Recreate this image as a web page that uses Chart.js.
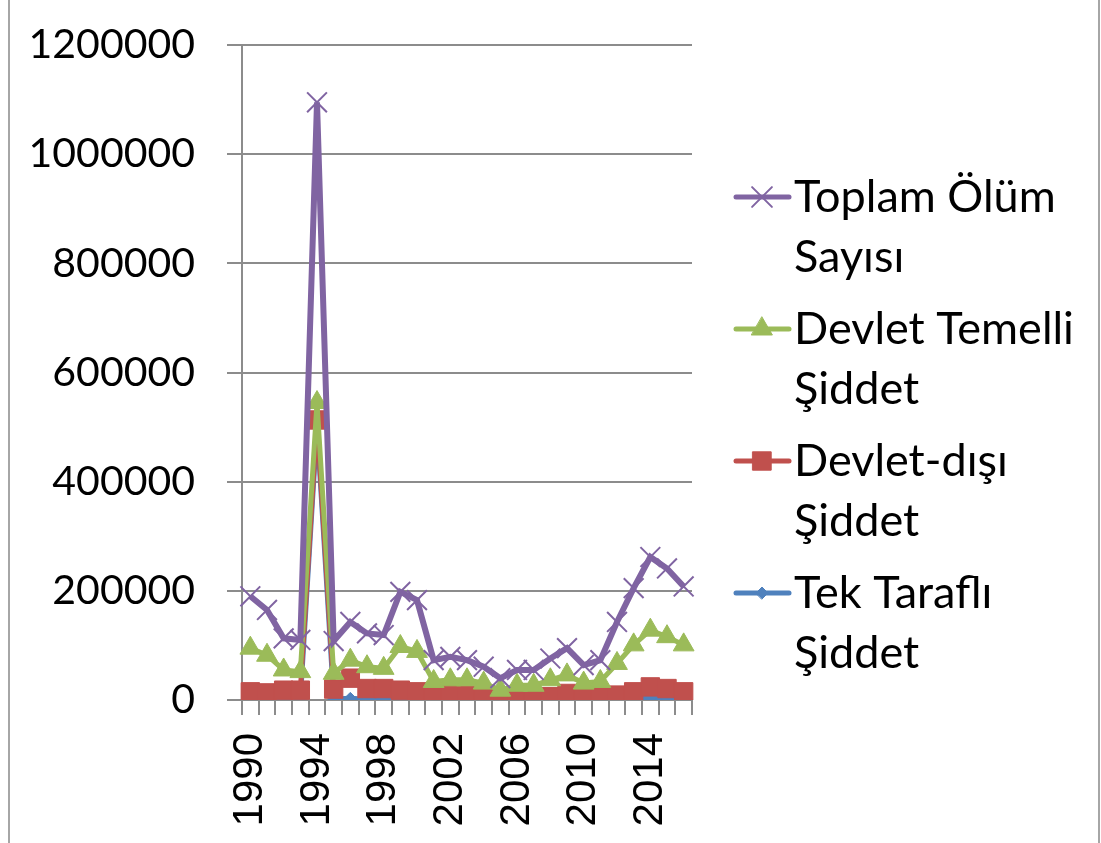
<!DOCTYPE html>
<html>
<head>
<meta charset="utf-8">
<script src="https://cdn.jsdelivr.net/npm/chart.js@4"></script>
<style>
  body { margin: 0; background: #fff; overflow: hidden; }
  #wrap { position: relative; width: 1101px; height: 843px; }
  #frame { position: absolute; left: 8px; top: 0; width: 1088px; height: 843px;
           border-left: 2px solid #a6a6a6; border-right: 2px solid #a6a6a6; pointer-events: none; }
</style>
</head>
<body>
<div id="wrap">
  <canvas id="chart" width="1101" height="843"></canvas>
  <div id="frame"></div>
</div>
<script>
// yıllar
const years = [];
for (let y = 1990; y <= 2016; y++) years.push(String(y));

// seriler
const toplam = [190000, 165000, 113000, 110000, 1095000, 108000, 143000, 122000, 119000, 198000,
                183000, 73000, 79000, 73000, 61000, 40000, 55000, 55000, 76000, 95000,
                64000, 73000, 143000, 205000, 262000, 241000, 208000];
const devletTemelli = [95000, 82000, 55000, 52000, 545000, 49000, 73000, 61000, 58000, 98000,
                       89000, 34000, 37000, 37000, 31000, 18000, 27000, 27000, 37000, 46000,
                       31000, 34000, 67000, 101000, 128000, 116000, 101000];
const devletDisi = [15000, 13000, 18000, 18000, 513000, 20000, 40000, 21000, 21000, 18000,
                    15000, 12000, 12000, 9000, 6000, 1000, 2000, 2000, 6000, 12000,
                    6000, 9000, 9000, 15000, 24000, 21000, 15000];
const tekTarafli = [500, 300, 1500, 500, 500000, 2000, 3000, 1500, 1500, 1500,
                    800, 500, 1500, 1000, 500, 300, 300, 800, 1000, 500,
                    500, 500, 500, 1500, 4000, 2500, 500];

const yTicks = [0, 200000, 400000, 600000, 800000, 1000000, 1200000];
const legendNames = [['Toplam Ölüm', 'Sayısı'], ['Devlet Temelli', 'Şiddet'], ['Devlet-dışı', 'Şiddet'], ['Tek Taraflı', 'Şiddet']];

const gridColor = '#8c8c8c';

// lejant: satırlara bölünmüş metin
const sideLegend = {
    id: 'sideLegend',
    afterDraw(chart) {
        const ctx = chart.ctx;
        const tops = [197, 329, 461, 593];
        chart.data.datasets.forEach((ds, i) => {
            const y = tops[i];
            ctx.save();
            ctx.strokeStyle = ds.borderColor;
            ctx.lineWidth = 5;
            ctx.lineCap = 'round';
            ctx.beginPath();
            ctx.moveTo(736, y);
            ctx.lineTo(789, y);
            ctx.stroke();
            ctx.fillStyle = ds.pointBackgroundColor;
            ctx.strokeStyle = ds.pointBorderColor;
            ctx.lineWidth = ds.pointBorderWidth || 1;
            Chart.helpers.drawPoint(ctx, {
                pointStyle: ds.pointStyle,
                radius: ds.pointRadius,
                borderWidth: ds.pointBorderWidth || 1
            }, 762, y);
            ctx.restore();

            ctx.save();
            ctx.fillStyle = '#000';
            ctx.font = '45px Lato';
            ctx.textBaseline = 'middle';
            legendNames[i].forEach((line, k) => {
                ctx.fillText(line, 794, y + k * 60);
            });
            ctx.restore();
        });
    }
};

new Chart(document.getElementById('chart'), {
    type: 'line',
    data: {
        labels: years,
        datasets: [
            {
                label: legendNames[0].join(' '),
                data: toplam,
                borderColor: '#8064A2',
                backgroundColor: '#8064A2',
                borderWidth: 6,
                pointStyle: 'crossRot',
                pointRadius: 14,
                pointBorderWidth: 2,
                pointBorderColor: '#8064A2',
                pointBackgroundColor: '#8064A2'
            },
            {
                label: legendNames[1].join(' '),
                data: devletTemelli,
                borderColor: '#9BBB59',
                backgroundColor: '#9BBB59',
                borderWidth: 5,
                pointStyle: 'triangle',
                pointRadius: 12,
                pointBorderWidth: 1,
                pointBorderColor: '#9BBB59',
                pointBackgroundColor: '#9BBB59'
            },
            {
                label: legendNames[2].join(' '),
                data: devletDisi,
                borderColor: '#C0504D',
                backgroundColor: '#C0504D',
                borderWidth: 5,
                pointStyle: 'rect',
                pointRadius: 13,
                pointBorderWidth: 1,
                pointBorderColor: '#C0504D',
                pointBackgroundColor: '#C0504D'
            },
            {
                label: legendNames[3].join(' '),
                data: tekTarafli,
                borderColor: '#4F81BD',
                backgroundColor: '#4F81BD',
                borderWidth: 5,
                pointStyle: 'rectRot',
                pointRadius: 6,
                pointBorderWidth: 1,
                pointBorderColor: '#4F81BD',
                pointBackgroundColor: '#4F81BD'
            }
        ]
    },
    options: {
        responsive: false,
        animation: false,
        layout: { padding: { top: 45, left: 0, right: 409, bottom: 1 } },
        plugins: {
            legend: { display: false },
            tooltip: { enabled: false }
        },
        scales: {
            x: {
                offset: true,
                afterFit: function (scale) {
                    scale.paddingLeft = 0;
                    scale.paddingRight = 0;
                    scale.height = 142;
                },
                grid: {
                    offset: true,
                    drawOnChartArea: false,
                    drawTicks: true,
                    tickLength: 15,
                    color: gridColor,
                    lineWidth: 2
                },
                border: { color: gridColor, width: 2 },
                ticks: {
                    autoSkip: false,
                    maxRotation: 90,
                    minRotation: 90,
                    padding: 18,
                    color: '#000',
                    font: { family: 'Liberation Sans', size: 42 },
                    callback: function (val, idx) {
                        return idx % 4 === 0 ? years[idx] : '';
                    }
                }
            },
            y: {
                min: 0,
                max: 1200000,
                afterBuildTicks: function (axis) {
                    axis.ticks = yTicks.map(v => ({ value: v }));
                },
                afterFit: function (scale) {
                    scale.paddingTop = 0;
                    scale.paddingBottom = 0;
                    scale.width = 242;
                },
                grid: {
                    color: gridColor,
                    lineWidth: 2,
                    drawTicks: true,
                    tickLength: 15
                },
                border: { color: gridColor, width: 2 },
                ticks: {
                    padding: 32,
                    color: '#000',
                    font: { family: 'Lato', size: 41 },
                    callback: v => String(v)
                }
            }
        }
    },
    plugins: [sideLegend]
});
</script>
</body>
</html>
